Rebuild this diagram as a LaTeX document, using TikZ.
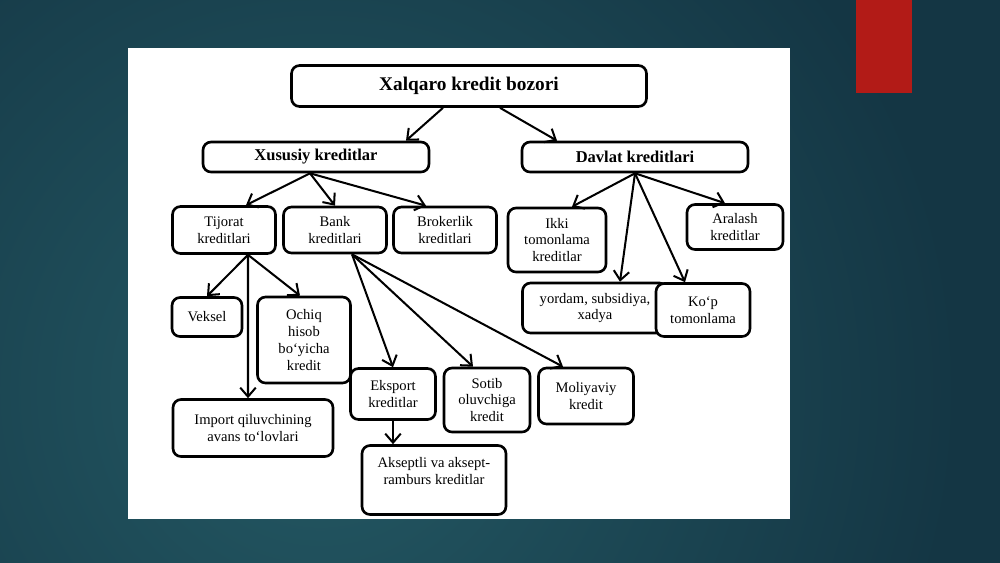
\documentclass[tikz,border=0pt]{standalone}
\usepackage{fontspec}
\setmainfont{Liberation Serif}
\usetikzlibrary{arrows.meta}
\definecolor{bgbase}{RGB}{20,54,68}
\definecolor{bgglow}{RGB}{36,89,100}
\definecolor{slidered}{RGB}{178,27,23}

\begin{document}
\begin{tikzpicture}[x=0.02cm,y=-0.02cm,
  box/.style={draw, fill=white, rounded corners=0.16cm, line width=1.5pt,
    align=center, inner sep=1pt, font=\fontsize{8.3}{9.6}\selectfont},
  head/.style={box, font=\fontsize{9.4}{11}\selectfont\bfseries},
  arr/.style={-{Straight Barb[length=1.8mm,width=3.1mm]}, line width=1.15pt}]
\useasboundingbox (0,0) rectangle (1000,562);
% slide
\fill[bgbase] (-10,-10) rectangle (1010,572);
\begin{scope}
\clip (-10,-10) rectangle (1010,572);
\shade[inner color=bgglow, outer color=bgbase] (320,390) circle (640);
\end{scope}
\fill[slidered] (856,-10) rectangle (912,93);
\fill[white] (128,48) rectangle (790,519);
% top levels
\node[head, minimum width=7.1cm, minimum height=0.82cm,
  font=\fontsize{11}{12}\selectfont\bfseries] (xalqaro) at (469,86) {Xalqaro kredit bozori};
\node[head, minimum width=4.52cm, minimum height=0.6cm] (xususiy) at (316,157) {Xususiy kreditlar};
\node[head, minimum width=4.52cm, minimum height=0.6cm] (davlat) at (635,157) {Davlat kreditlari};
% private credits
\node[box, minimum width=2.06cm, minimum height=0.94cm] (tijorat) at (224,230) {Tijorat\\kreditlari};
\node[box, minimum width=2.06cm, minimum height=0.92cm] (bank) at (335,230) {Bank\\kreditlari};
\node[box, minimum width=2.06cm, minimum height=0.92cm] (broker) at (445,230) {Brokerlik\\kreditlari};
\node[box, minimum width=1.4cm, minimum height=0.78cm] (veksel) at (207,317) {Veksel};
\node[box, minimum width=1.86cm, minimum height=1.72cm] (ochiq) at (304,340) {Ochiq\\hisob\\bo‘yicha\\kredit};
\node[box, minimum width=3.2cm, minimum height=1.14cm] (import) at (253,428) {Import qiluvchining\\avans to‘lovlari};
\node[box, minimum width=1.7cm, minimum height=1.02cm] (eksport) at (393,394) {Eksport\\kreditlar};
\node[box, minimum width=1.72cm, minimum height=1.28cm] (sotib) at (487,400) {Sotib\\oluvchiga\\kredit};
\node[box, minimum width=1.9cm, minimum height=1.12cm] (moliya) at (586,396) {Moliyaviy\\kredit};
\node[box, minimum width=2.88cm, minimum height=1.38cm, text depth=0.38cm] (aksept) at (434,480) {Akseptli va aksept-\\ramburs kreditlar};
% state credits
\node[box, minimum width=1.96cm, minimum height=1.28cm] (ikki) at (557,240) {Ikki\\tomonlama\\kreditlar};
\node[box, minimum width=1.92cm, minimum height=0.9cm] (aralash) at (735,227) {Aralash\\kreditlar};
\node[box, minimum width=2.9cm, minimum height=1.0cm] (yordam) at (595,308) {yordam, subsidiya,\\xadya};
\node[box, minimum width=1.88cm, minimum height=1.06cm] (kop) at (703,310) {Ko‘p\\tomonlama};
\path[arr]
    ([xshift=-0.52cm]xalqaro.south) edge ([xshift=1.8cm]xususiy.north)
    ([xshift=0.62cm]xalqaro.south) edge ([xshift=-1.56cm]davlat.north)
    ([xshift=-0.12cm]xususiy.south) edge ([xshift=0.44cm]tijorat.north)
    ([xshift=-0.12cm]xususiy.south) edge (bank.north)
    ([xshift=-0.12cm]xususiy.south) edge ([xshift=-0.38cm]broker.north)
    (davlat.south) edge ([xshift=0.3cm]ikki.north)
    (davlat.south) edge ([xshift=-0.2cm]aralash.north)
    (davlat.south) edge ([xshift=0.5cm]yordam.north)
    (davlat.south) edge ([xshift=-0.36cm]kop.north)
    ([xshift=0.48cm]tijorat.south) edge (veksel.north)
    ([xshift=0.48cm]tijorat.south) edge ([xshift=-0.08cm]ochiq.north)
    ([xshift=0.48cm]tijorat.south) edge ([xshift=-0.1cm]import.north)
    ([xshift=0.34cm]bank.south) edge (eksport.north)
    ([xshift=0.34cm]bank.south) edge ([xshift=-0.28cm]sotib.north)
    ([xshift=0.34cm]bank.south) edge ([xshift=-0.46cm]moliya.north)
    (eksport.south) edge (eksport.south |- aksept.north);
\end{tikzpicture}
\end{document}
